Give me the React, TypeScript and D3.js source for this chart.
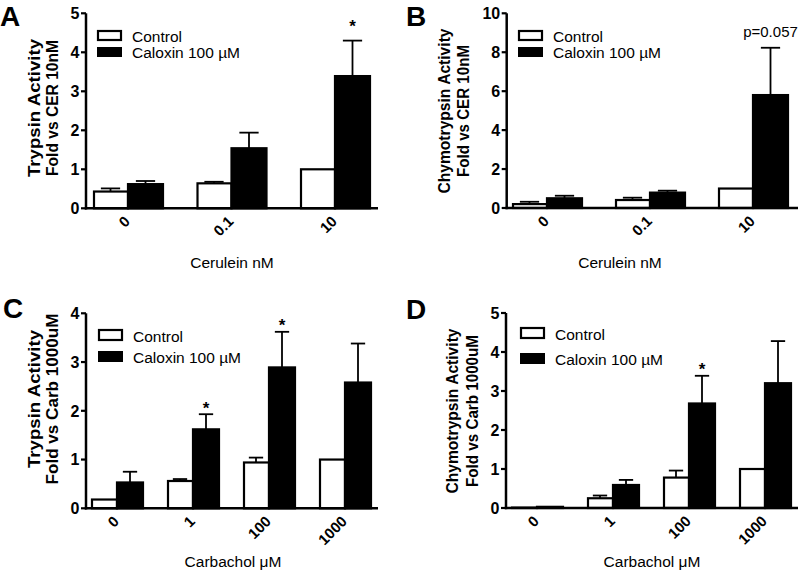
import React from "react";
import * as d3 from "d3";

// ---------- data ----------
const ceruleinDoses = ["0", "0.1", "10"];
const carbacholDoses = ["0", "1", "100", "1000"];

// Panel A: Trypsin, cerulein
const trypCerControl = [0.43, 0.64, 1.0];
const trypCerControlErr = [0.08, 0.04, 0];
const trypCerCaloxin = [0.62, 1.54, 3.39];
const trypCerCaloxinErr = [0.08, 0.4, 0.91];

// Panel B: Chymotrypsin, cerulein
const chymCerControl = [0.2, 0.41, 1.0];
const chymCerControlErr = [0.12, 0.12, 0];
const chymCerCaloxin = [0.5, 0.79, 5.8];
const chymCerCaloxinErr = [0.13, 0.1, 2.43];

// Panel C: Trypsin, carbachol
const trypCarbControl = [0.18, 0.56, 0.94, 1.0];
const trypCarbControlErr = [0, 0.04, 0.1, 0];
const trypCarbCaloxin = [0.53, 1.62, 2.89, 2.58];
const trypCarbCaloxinErr = [0.22, 0.31, 0.73, 0.8];

// Panel D: Chymotrypsin, carbachol
const chymCarbControl = [0.01, 0.25, 0.78, 1.0];
const chymCarbControlErr = [0, 0.07, 0.18, 0];
const chymCarbCaloxin = [0.03, 0.59, 2.68, 3.2];
const chymCarbCaloxinErr = [0, 0.13, 0.71, 1.08];

const seriesNames = ["Control", "Caloxin 100 µM"];

const FONT = "'Liberation Sans', Arial, Helvetica, sans-serif";

type PanelCfg = {
  letter: string;
  letterX: number;
  letterY: number;
  axisX: number;
  xRight: number;
  y0: number;
  yTop: number;
  yMax: number;
  yStep: number;
  cats: string[];
  c0: number;
  c1: number;
  barW: number;
  control: number[];
  controlErr: number[];
  caloxin: number[];
  caloxinErr: number[];
  title1: string;
  title2: string;
  titleX: number;
  titleGap: number;
  titleY: number;
  titleSize: number;
  len1: number;
  len2: number;
  xTitle: string;
  xTitleX: number;
  xTitleY: number;
  legX: number;
  legY1: number;
  legY2: number;
  legH: number;
  marks: { i: number; text: string; dy: number }[];
};

const panels: PanelCfg[] = [
  {
    letter: "A", letterX: 0, letterY: 26,
    axisX: 86, xRight: 378, y0: 208.3, yTop: 13.3, yMax: 5, yStep: 1,
    cats: ceruleinDoses, c0: 128, c1: 335, barW: 35,
    control: trypCerControl, controlErr: trypCerControlErr,
    caloxin: trypCerCaloxin, caloxinErr: trypCerCaloxinErr,
    title1: "Trypsin Activity", title2: "Fold vs CER 10nM",
    titleX: 39.5, titleGap: 18.5, titleY: 108, titleSize: 17, len1: 138, len2: 136,
    xTitle: "Cerulein nM", xTitleX: 232, xTitleY: 268,
    legX: 97, legY1: 31, legY2: 47, legH: 10,
    marks: [{ i: 2, text: "*", dy: -19 }],
  },
  {
    letter: "B", letterX: 406, letterY: 26,
    axisX: 506.7, xRight: 798, y0: 208, yTop: 13.3, yMax: 10, yStep: 2,
    cats: ceruleinDoses, c0: 547, c1: 753, barW: 35,
    control: chymCerControl, controlErr: chymCerControlErr,
    caloxin: chymCerCaloxin, caloxinErr: chymCerCaloxinErr,
    title1: "Chymotrypsin Activity", title2: "Fold vs CER 10nM",
    titleX: 450, titleGap: 19, titleY: 111, titleSize: 16, len1: 165, len2: 132,
    xTitle: "Cerulein nM", xTitleX: 620, xTitleY: 268,
    legX: 518, legY1: 31, legY2: 47, legH: 10,
    marks: [{ i: 2, text: "p=0.057", dy: -11 }],
  },
  {
    letter: "C", letterX: 3, letterY: 318,
    axisX: 86, xRight: 378, y0: 508.3, yTop: 313.3, yMax: 4, yStep: 1,
    cats: carbacholDoses, c0: 117, c1: 345, barW: 26,
    control: trypCarbControl, controlErr: trypCarbControlErr,
    caloxin: trypCarbCaloxin, caloxinErr: trypCarbCaloxinErr,
    title1: "Trypsin Activity", title2: "Fold vs Carb 1000uM",
    titleX: 39.5, titleGap: 18.5, titleY: 399, titleSize: 17, len1: 138, len2: 171,
    xTitle: "Carbachol μM", xTitleX: 233, xTitleY: 567,
    legX: 98, legY1: 330, legY2: 351, legH: 11,
    marks: [
      { i: 1, text: "*", dy: -10 },
      { i: 2, text: "*", dy: -11 },
    ],
  },
  {
    letter: "D", letterX: 406, letterY: 319,
    axisX: 506, xRight: 798, y0: 508, yTop: 313, yMax: 5, yStep: 1,
    cats: carbacholDoses, c0: 537, c1: 765, barW: 26,
    control: chymCarbControl, controlErr: chymCarbControlErr,
    caloxin: chymCarbCaloxin, caloxinErr: chymCarbCaloxinErr,
    title1: "Chymotrypsin Activity", title2: "Fold vs Carb 1000uM",
    titleX: 458, titleGap: 20, titleY: 411, titleSize: 16, len1: 165, len2: 152,
    xTitle: "Carbachol μM", xTitleX: 652, xTitleY: 567,
    legX: 520, legY1: 328, legY2: 353, legH: 11,
    marks: [{ i: 2, text: "*", dy: -11 }],
  },
];

function Panel({ p }: { p: PanelCfg }) {
  const y = d3.scaleLinear().domain([0, p.yMax]).range([p.y0, p.yTop]);
  const x = d3.scalePoint<string>().domain(p.cats).range([p.c0, p.c1]);
  const ticks = d3.range(0, p.yMax + 0.001, p.yStep);
  const legW = 25;
  const capW = p.barW * 0.55;

  const bars: React.ReactNode[] = [];
  p.cats.forEach((c, i) => {
    const cx = x(c) as number;
    const cv = p.control[i];
    const ce = p.controlErr[i];
    const cv2 = p.caloxin[i];
    const ce2 = p.caloxinErr[i];
    const ctrlX = cx - p.barW;
    const calX = cx;
    if (ce > 0) {
      bars.push(
        <g key={"ce" + i} stroke="#000" strokeWidth={1.8}>
          <line x1={ctrlX + p.barW / 2} x2={ctrlX + p.barW / 2} y1={y(cv)} y2={y(cv + ce)} />
          <line x1={ctrlX + p.barW / 2 - capW / 2} x2={ctrlX + p.barW / 2 + capW / 2} y1={y(cv + ce)} y2={y(cv + ce)} />
        </g>
      );
    }
    if (ce2 > 0) {
      bars.push(
        <g key={"ke" + i} stroke="#000" strokeWidth={1.8}>
          <line x1={calX + p.barW / 2} x2={calX + p.barW / 2} y1={y(cv2)} y2={y(cv2 + ce2)} />
          <line x1={calX + p.barW / 2 - capW / 2} x2={calX + p.barW / 2 + capW / 2} y1={y(cv2 + ce2)} y2={y(cv2 + ce2)} />
        </g>
      );
    }
    bars.push(
      <rect
        key={"c" + i}
        x={ctrlX + 1}
        y={y(cv)}
        width={p.barW - 1}
        height={Math.max(0, p.y0 - y(cv))}
        fill="#fff"
        stroke="#000"
        strokeWidth={2.2}
      />
    );
    bars.push(
      <rect
        key={"k" + i}
        x={calX}
        y={y(cv2)}
        width={p.barW}
        height={Math.max(0, p.y0 - y(cv2))}
        fill="#000"
        stroke="#000"
        strokeWidth={2.2}
      />
    );
  });

  return (
    <g fontFamily={FONT}>
      <text x={p.letterX} y={p.letterY} fontSize={28} fontWeight="bold">
        {p.letter}
      </text>
      {/* y title */}
      <text
        transform={`translate(${p.titleX},${p.titleY}) rotate(-90)`}
        textAnchor="middle"
        fontSize={p.titleSize}
        fontWeight="bold"
        textLength={p.len1}
        lengthAdjust="spacingAndGlyphs"
      >
        {p.title1}
      </text>
      <text
        transform={`translate(${p.titleX + p.titleGap},${p.titleY}) rotate(-90)`}
        textAnchor="middle"
        fontSize={p.titleSize}
        fontWeight="bold"
        textLength={p.len2}
        lengthAdjust="spacingAndGlyphs"
      >
        {p.title2}
      </text>
      {/* legend */}
      <rect x={p.legX + 1} y={p.legY1} width={legW - 2} height={p.legH - 1} fill="#fff" stroke="#000" strokeWidth={2.2} />
      <rect x={p.legX} y={p.legY2} width={legW} height={p.legH} fill="#000" />
      <text x={p.legX + legW + 10} y={p.legY1 + p.legH + 1} fontSize={15.5}>
        {seriesNames[0]}
      </text>
      <text x={p.legX + legW + 10} y={p.legY2 + p.legH + 1} fontSize={15.5}>
        {seriesNames[1]}
      </text>
      {bars}
      {/* axes */}
      <line x1={p.axisX} x2={p.axisX} y1={p.y0 + 1.2} y2={p.yTop} stroke="#000" strokeWidth={2.5} />
      <line x1={p.axisX - 1.2} x2={p.xRight} y1={p.y0} y2={p.y0} stroke="#000" strokeWidth={2.5} />
      {ticks.map((t) => (
        <g key={t}>
          <line x1={p.axisX - 5} x2={p.axisX} y1={y(t)} y2={y(t)} stroke="#000" strokeWidth={2.2} />
          <text
            x={p.axisX - 6.5}
            y={y(t)}
            dy="0.36em"
            textAnchor="end"
            fontSize={16}
            fontWeight="bold"
          >
            {t}
          </text>
        </g>
      ))}
      {p.cats.map((c) => (
        <text
          key={c}
          transform={`translate(${(x(c) as number) + 3},${p.y0 + 14}) rotate(-45)`}
          textAnchor="end"
          fontSize={15}
          fontWeight="bold"
        >
          {c}
        </text>
      ))}
      <text x={p.xTitleX} y={p.xTitleY} textAnchor="middle" fontSize={15.5}>
        {p.xTitle}
      </text>
      {p.marks.map((m, k) => {
        const cx = (x(p.cats[m.i]) as number) + p.barW / 2;
        const top = y(p.caloxin[m.i] + p.caloxinErr[m.i]);
        return m.text === "*" ? (
          <text key={k} x={cx} y={top + m.dy} dy="0.6em" textAnchor="middle" fontSize={17} fontWeight="bold">
            {m.text}
          </text>
        ) : (
          <text key={k} x={cx} y={top + m.dy} textAnchor="middle" fontSize={15}>
            {m.text}
          </text>
        );
      })}
    </g>
  );
}

export default function App() {
  return (
    <svg width={800} height={571} style={{ display: "block", position: "absolute", left: 0, top: 0 }}>
      <rect width={800} height={571} fill="#fff" />
      {panels.map((p) => (
        <Panel key={p.letter} p={p} />
      ))}
    </svg>
  );
}
